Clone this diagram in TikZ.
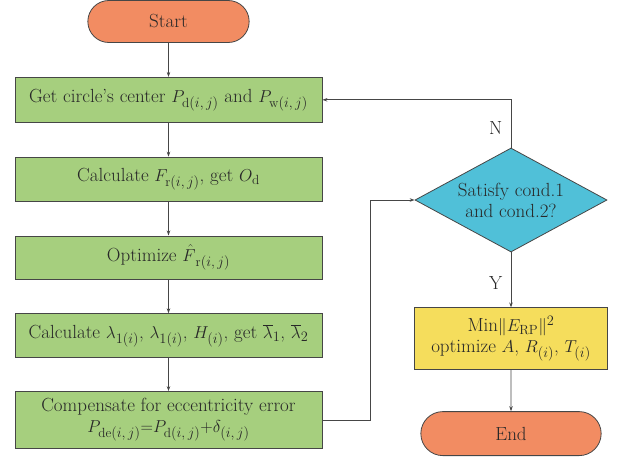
\documentclass[tikz,border=0pt]{standalone}
\usepackage{fontspec}
\usepackage{tikz}
\usetikzlibrary{positioning,arrows.meta,shapes.misc,shapes.geometric}
\definecolor{termfill}{RGB}{242,140,98}
\definecolor{stepfill}{RGB}{166,207,126}
\definecolor{testfill}{RGB}{80,192,216}
\definecolor{resfill}{RGB}{245,221,92}
\definecolor{edgegray}{RGB}{70,70,70}
\definecolor{txtgray}{RGB}{40,40,40}

\begin{document}
\begin{tikzpicture}[
  font=\fontsize{19}{21}\selectfont,
  text=txtgray,
  box/.style={
    draw=edgegray,
    fill=stepfill,
    line width=0.8pt,
    align=center,
    inner sep=3pt,
    minimum width=307pt,
    minimum height=44pt
  },
  term/.style={
    draw=edgegray,
    fill=termfill,
    rounded rectangle,
    line width=0.8pt,
    minimum height=42pt
  },
  test/.style={
    draw=edgegray,
    fill=testfill,
    diamond,
    aspect=1.85,
    inner sep=0pt,
    align=center,
    line width=0.8pt,
    minimum width=192pt,
    minimum height=104pt
  },
  arrow/.style={-{Stealth[length=5pt,width=3.5pt]}, line width=0.8pt, draw=edgegray},
  node distance=34pt and 34pt
]
\useasboundingbox (0,0) rectangle (621pt,-456pt);

\node[term, minimum width=168pt] (start) at (168.5pt,-21.5pt) {Start};

\node[box, minimum height=45pt, below=of start] (center) {Get circle's center $P_{\mathrm{d}(i,\,j)}$ and $P_{\mathrm{w}(i,\,j)}$};

\node[box, below=of center] (calcf) {Calculate $F_{\mathrm{r}(i,\,j)}$, get $O_{\mathrm{d}}$};

\node[box, minimum height=43pt, below=of calcf] (optf) {Optimize $\hat{F}{}_{\mathrm{r}(i,\,j)}$};

\node[box, below=of optf] (calclam) {Calculate $\lambda_{1(i)}$, $\lambda_{1(i)}$, $H_{(i)}$, get $\overline{\lambda}_1$, $\overline{\lambda}_2$};

\node[box, minimum height=57pt, below=33pt of calclam] (comp) {Compensate for eccentricity error\\$P_{\mathrm{de}(i,\,j)}{=}P_{\mathrm{d}(i,\,j)}{+}\delta_{(i,\,j)}$};

\node[test] (cond) at (511pt,-200pt) {Satisfy cond.1\\and cond.2?};

\node[box, fill=resfill, minimum width=193pt, minimum height=62pt, below=55pt of cond] (minerr) {Min$\|E_{\mathrm{RP}}\|^2$\\optimize $A$, $R_{(i)}$, $T_{(i)}$};

\node[term, minimum width=187pt, minimum height=44pt, below=41pt of minerr] (end) {End};

\coordinate (jog) at ([xshift=-44pt]cond.west);

\draw[arrow] (start) -- (center);
\draw[arrow] (center) -- (calcf);
\draw[arrow] (calcf) -- (optf);
\draw[arrow] (optf) -- (calclam);
\draw[arrow] (calclam) -- (comp);
\draw[arrow] (comp.east) -| (jog) -- (cond.west);
\draw[arrow] (cond.north) |- node[pos=0.2, left=5pt] {N} (center.east);
\draw[arrow] (cond.south) -- node[pos=0.55, left=5pt] {Y} (minerr);
\draw[arrow] (minerr) -- (end);

\end{tikzpicture}
\end{document}
